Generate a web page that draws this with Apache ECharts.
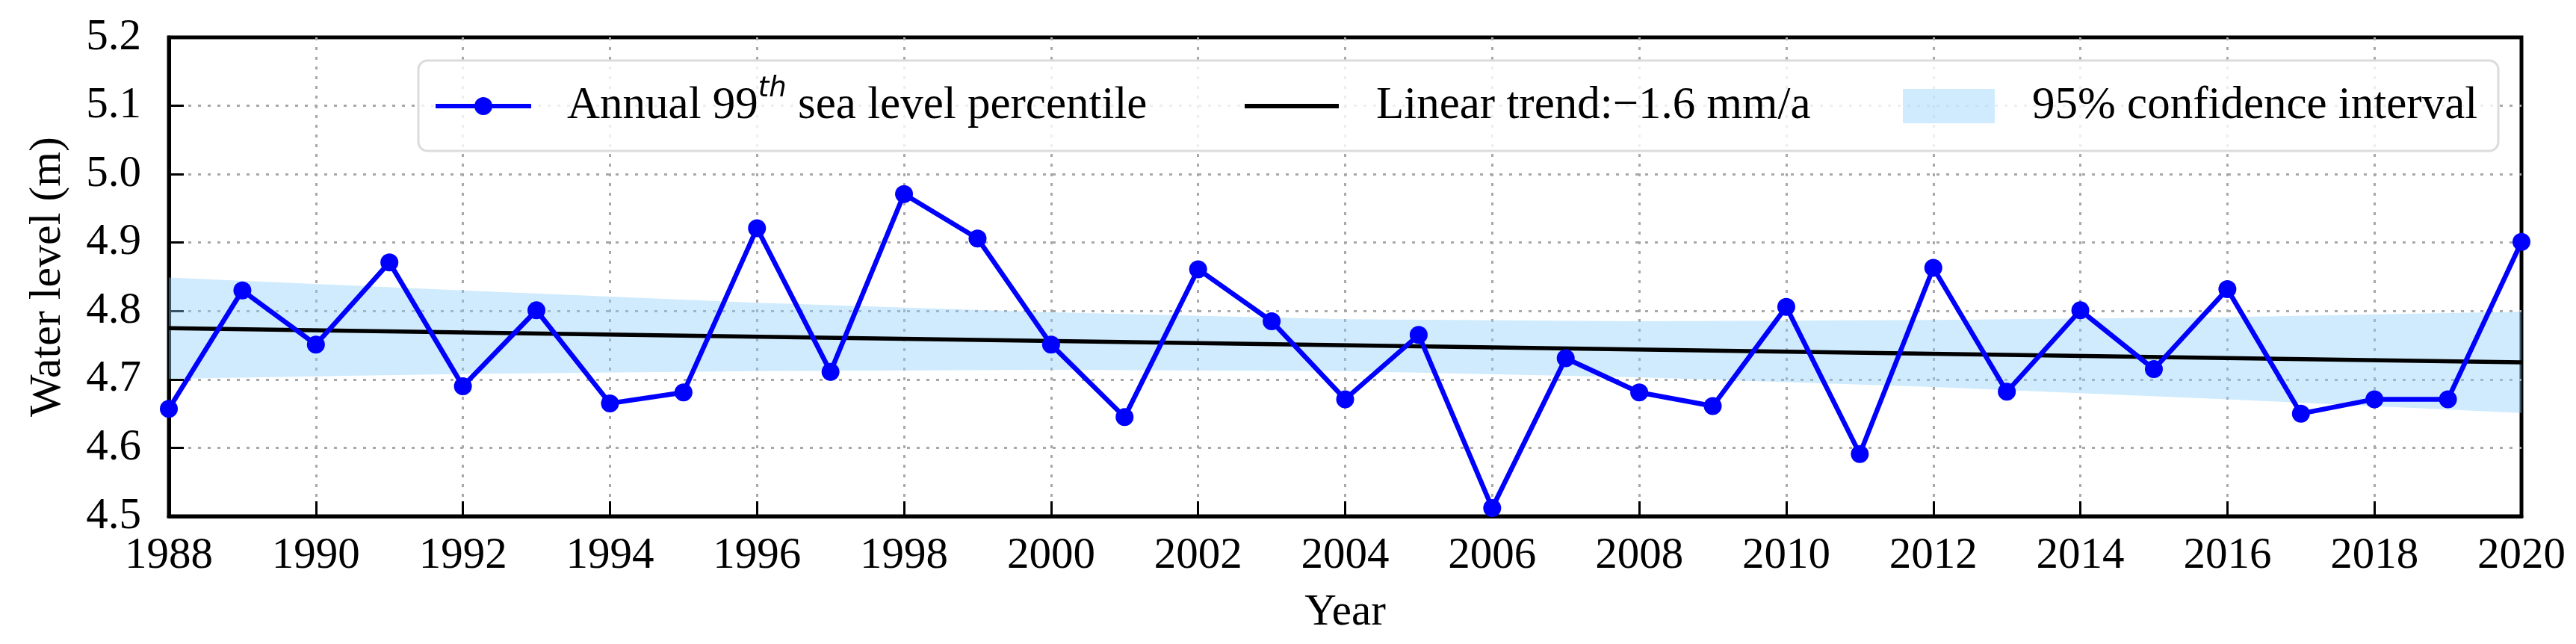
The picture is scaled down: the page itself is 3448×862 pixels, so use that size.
<!DOCTYPE html>
<html><head><meta charset="utf-8">
<script src="https://cdn.jsdelivr.net/npm/echarts@6/dist/echarts.min.js"></script>
<style>html,body{margin:0;padding:0;background:#fff}#c{width:3448px;height:862px}</style>
</head><body><div id="c"></div>
<script>
const years = [1988,1989,1990,1991,1992,1993,1994,1995,1996,1997,1998,1999,2000,2001,2002,2003,2004,2005,2006,2007,2008,2009,2010,2011,2012,2013,2014,2015,2016,2017,2018,2019,2020];
const values = [4.657,4.830,4.751,4.871,4.690,4.801,4.665,4.681,4.921,4.711,4.971,4.906,4.751,4.645,4.861,4.785,4.671,4.765,4.512,4.731,4.681,4.661,4.806,4.591,4.863,4.682,4.801,4.715,4.832,4.650,4.671,4.671,4.901];
const trendYears = [1988, 2020];
const trendValues = [4.775, 4.725];
const bandYears = [1988,1992,1996,2000,2004,2008,2012,2016,2020];
const bandUpper = [4.849,4.830,4.812,4.798,4.788,4.785,4.787,4.791,4.799];
const bandLower = [4.701,4.708,4.712,4.714,4.712,4.703,4.689,4.671,4.651];

const NAME_OBS = 'Annual 99th sea level percentile';
const NAME_TREND = 'Linear trend:\u22121.6 mm/a';
const NAME_BAND = '95% confidence interval';

const SERIF = "'Liberation Serif','Times New Roman',serif";
const BAND_COLOR = 'rgba(135,206,250,0.4)';

const chart = echarts.init(document.getElementById('c'));
const legendText = {
  fontFamily: SERIF, fontSize: 61, color: '#000', lineHeight: 82
};
const gridLine = { show: true, showMinLine: false, showMaxLine: false, lineStyle: { color: '#a8a8a8', width: 3, type: [4, 9] } };
chart.setOption({
  animation: false,
  backgroundColor: '#fff',
  grid: { left: 226, right: 73, top: 50, bottom: 171, show: true, borderColor: '#000', borderWidth: 5, backgroundColor: 'transparent' },
  xAxis: {
    type: 'value', min: 1988, max: 2020, interval: 2,
    name: 'Year', nameLocation: 'middle', nameGap: 100,
    nameTextStyle: { fontFamily: SERIF, fontSize: 59, color: '#000' },
    axisLine: { show: true, lineStyle: { color: '#000', width: 5 } },
    axisTick: { show: true, inside: true, length: 20, lineStyle: { color: '#000', width: 3 } },
    axisLabel: { margin: 24, fontFamily: SERIF, fontSize: 59, color: '#000', formatter: v => String(v) },
    splitLine: gridLine
  },
  yAxis: {
    type: 'value', min: 4.5, max: 5.2, interval: 0.1,
    name: 'Water level (m)', nameLocation: 'middle', nameGap: 132, nameRotate: 90,
    nameTextStyle: { fontFamily: SERIF, fontSize: 60, color: '#000' },
    axisLine: { show: true, lineStyle: { color: '#000', width: 5 } },
    axisTick: { show: true, inside: true, length: 20, lineStyle: { color: '#000', width: 3 } },
    axisLabel: { margin: 37, fontFamily: SERIF, fontSize: 59, color: '#000', formatter: v => v.toFixed(1) },
    splitLine: gridLine
  },
  graphic: { elements: [{
    type: 'rect', z: 3,
    shape: { x: 560, y: 81, width: 2784, height: 121, r: 12 },
    style: { fill: 'rgba(255,255,255,0.8)', stroke: '#dcdcdc', lineWidth: 3 }
  }]},
  legend: [
    { left: 580, top: 101, padding: 0, itemWidth: 128, itemHeight: 30, selectedMode: false,
      data: [{ name: NAME_OBS, lineStyle: { width: 6, color: '#0000ff' } }],
      lineStyle: { width: 6 },
      formatter: () => '{a|Annual 99}{s|th}{a| sea level percentile}',
      textStyle: Object.assign({}, legendText, { padding: [0,0,0,43], rich: {
        a: { fontFamily: SERIF, fontSize: 61, color: '#000', lineHeight: 82 },
        s: { fontFamily: "'DejaVu Sans',sans-serif", fontStyle: 'italic', fontSize: 37, color: '#000', lineHeight: 40, verticalAlign: 'top' }
      }})
    },
    { left: 1663, top: 101, padding: 0, itemWidth: 126, itemHeight: 30, selectedMode: false,
      data: [{ name: NAME_TREND, itemStyle: { color: 'rgba(0,0,0,0)', opacity: 0 }, lineStyle: { width: 6, color: '#000' } }],
      lineStyle: { width: 6 },
      textStyle: Object.assign({}, legendText, { padding: [0,0,0,45] })
    },
    { left: 2547, top: 101, padding: 0, itemWidth: 123, itemHeight: 46, selectedMode: false,
      data: [{ name: NAME_BAND, icon: 'rect' }],
      textStyle: Object.assign({}, legendText, { padding: [0,0,0,45] })
    }
  ],
  series: [
    {
      name: NAME_BAND, type: 'custom', z: 1,
      itemStyle: { color: BAND_COLOR },
      data: bandYears.map((y, i) => [y, bandLower[i], bandUpper[i]]),
      encode: { x: 0, y: [1, 2] },
      renderItem: (params, api) => {
        if (params.dataIndex !== 0) return null;
        const pts = [];
        for (let i = 0; i < bandYears.length; i++) pts.push(api.coord([bandYears[i], bandUpper[i]]));
        for (let i = bandYears.length - 1; i >= 0; i--) pts.push(api.coord([bandYears[i], bandLower[i]]));
        return { type: 'polygon', shape: { points: pts }, style: { fill: BAND_COLOR } };
      }
    },
    {
      name: NAME_TREND, type: 'line', z: 2, symbol: 'none',
      data: trendYears.map((y, i) => [y, trendValues[i]]),
      lineStyle: { color: '#000', width: 5.5 }, itemStyle: { color: '#000' }
    },
    {
      name: NAME_OBS, type: 'line', z: 3, symbol: 'circle', symbolSize: 24,
      data: years.map((y, i) => [y, values[i]]),
      lineStyle: { color: '#0000ff', width: 6.5 }, itemStyle: { color: '#0000ff' }
    }
  ]
});
</script></body></html>
